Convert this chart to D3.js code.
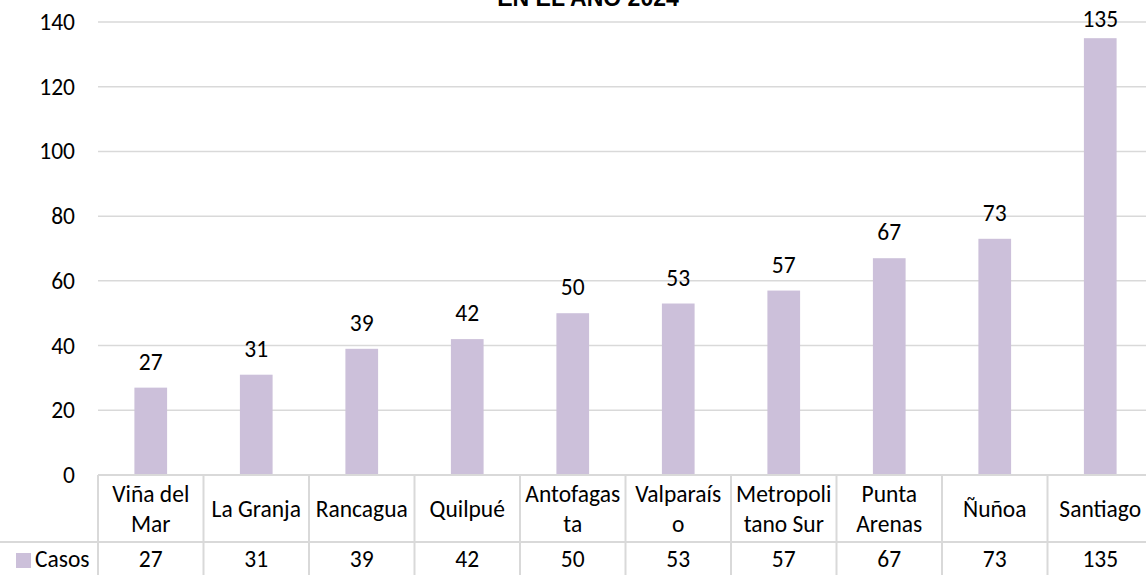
<!DOCTYPE html>
<html>
<head>
<meta charset="utf-8">
<script src="https://cdn.jsdelivr.net/npm/d3@7"></script>
<style>
  body { margin: 0; background: #fff; }
  svg { display: block; }
  text { font-family: Carlito, Calibri, "Noto Sans", sans-serif; fill: #000; }
</style>
</head>
<body>
<div id="chart-area"></div>
<script>
// data
var categories = ["Viña del Mar", "La Granja", "Rancagua", "Quilpué", "Antofagasta",
                  "Valparaíso", "Metropolitano Sur", "Punta Arenas", "Ñuñoa", "Santiago"];
// how the category names wrap in the data table
var categoryLines = [["Viña del", "Mar"], ["La Granja"], ["Rancagua"], ["Quilpué"], ["Antofagas", "ta"],
                     ["Valparaís", "o"], ["Metropoli", "tano Sur"], ["Punta", "Arenas"], ["Ñuñoa"], ["Santiago"]];
var casos = [27, 31, 39, 42, 50, 53, 57, 67, 73, 135];
var yTicks = [0, 20, 40, 60, 80, 100, 120, 140];
var seriesName = "Casos";
var titleLine = "EN EL AÑO 2024";

var W = 1146, H = 575;
var margin = {left: 98, top: 22};
var plotBottom = 475;
var rowSplit = 542;
var fontSize = "23.5px";
var barColor = "#ccc0da";
var gridColor = "#d9d9d9";

var svg = d3.select("#chart-area")
  .append("svg")
  .attr("width", W)
  .attr("height", H);

var x = d3.scaleBand().domain(categories).range([margin.left, margin.left + 105.5 * categories.length]).padding(0);
var y = d3.scaleLinear().domain([0, 140]).range([plotBottom, margin.top]);
var barW = x.bandwidth() * 0.31;

// gridlines
svg.append("g")
  .selectAll("line")
  .data(yTicks.filter(d => d > 0))
  .enter().append("line")
  .attr("x1", margin.left)
  .attr("x2", W)
  .attr("y1", d => y(d))
  .attr("y2", d => y(d))
  .attr("stroke", gridColor)
  .attr("stroke-width", 1.5);

// y axis labels
var yAxis = d3.axisLeft(y).tickValues(yTicks).tickSize(0).tickPadding(0);
var yAxisGroup = svg.append("g")
  .attr("transform", "translate(75,0)")
  .call(yAxis);
yAxisGroup.select(".domain").remove();
yAxisGroup.selectAll("text")
  .style("font-family", "Carlito, Calibri, 'Noto Sans', sans-serif")
  .attr("font-size", fontSize)
  .attr("fill", "#000");

// title (only its last line shows, cut at the top edge as in the original)
svg.append("text")
  .attr("x", 588)
  .attr("y", 6)
  .attr("text-anchor", "middle")
  .style("font-family", "'Liberation Sans', Arial, sans-serif")
  .attr("font-weight", "bold")
  .attr("font-size", "23px")
  .text(titleLine);

// bars
svg.append("g")
  .selectAll("rect")
  .data(casos)
  .enter().append("rect")
  .attr("x", (d, i) => x(categories[i]) + x.bandwidth() / 2 - barW / 2)
  .attr("y", d => y(d))
  .attr("width", barW)
  .attr("height", d => y(0) - y(d))
  .attr("fill", barColor);

// value labels
svg.append("g")
  .selectAll("text")
  .data(casos)
  .enter().append("text")
  .attr("x", (d, i) => x(categories[i]) + x.bandwidth() / 2)
  .attr("y", d => Math.max(y(d) - 18, y(140) + 5))
  .attr("text-anchor", "middle")
  .attr("font-size", fontSize)
  .text(d => d);

// data table
var table = svg.append("g");
table.append("line")
  .attr("x1", margin.left).attr("x2", W)
  .attr("y1", plotBottom).attr("y2", plotBottom)
  .attr("stroke", gridColor).attr("stroke-width", 2);
table.append("line")
  .attr("x1", 0).attr("x2", W)
  .attr("y1", rowSplit).attr("y2", rowSplit)
  .attr("stroke", gridColor).attr("stroke-width", 2);
table.selectAll(".vline")
  .data(categories)
  .enter().append("line")
  .attr("class", "vline")
  .attr("x1", d => x(d)).attr("x2", d => x(d))
  .attr("y1", plotBottom).attr("y2", H)
  .attr("stroke", gridColor).attr("stroke-width", 2);

categories.forEach((c, i) => {
  var lines = categoryLines[i];
  var cy = (plotBottom + rowSplit) / 2;
  var t = table.append("text")
    .attr("x", x(c) + x.bandwidth() / 2)
    .attr("text-anchor", "middle")
    .attr("font-size", fontSize);
  lines.forEach((l, j) => {
    t.append("tspan")
      .attr("x", x(c) + x.bandwidth() / 2)
      .attr("y", cy + 8 + (j - (lines.length - 1) / 2) * 30)
      .text(l);
  });
  table.append("text")
    .attr("x", x(c) + x.bandwidth() / 2)
    .attr("y", 567)
    .attr("text-anchor", "middle")
    .attr("font-size", fontSize)
    .text(casos[i]);
});

// legend key in table
table.append("rect")
  .attr("x", 16).attr("y", 553)
  .attr("width", 15).attr("height", 15)
  .attr("fill", barColor);
table.append("text")
  .attr("x", 35).attr("y", 567)
  .attr("font-size", fontSize)
  .text(seriesName);
</script>
</body>
</html>
